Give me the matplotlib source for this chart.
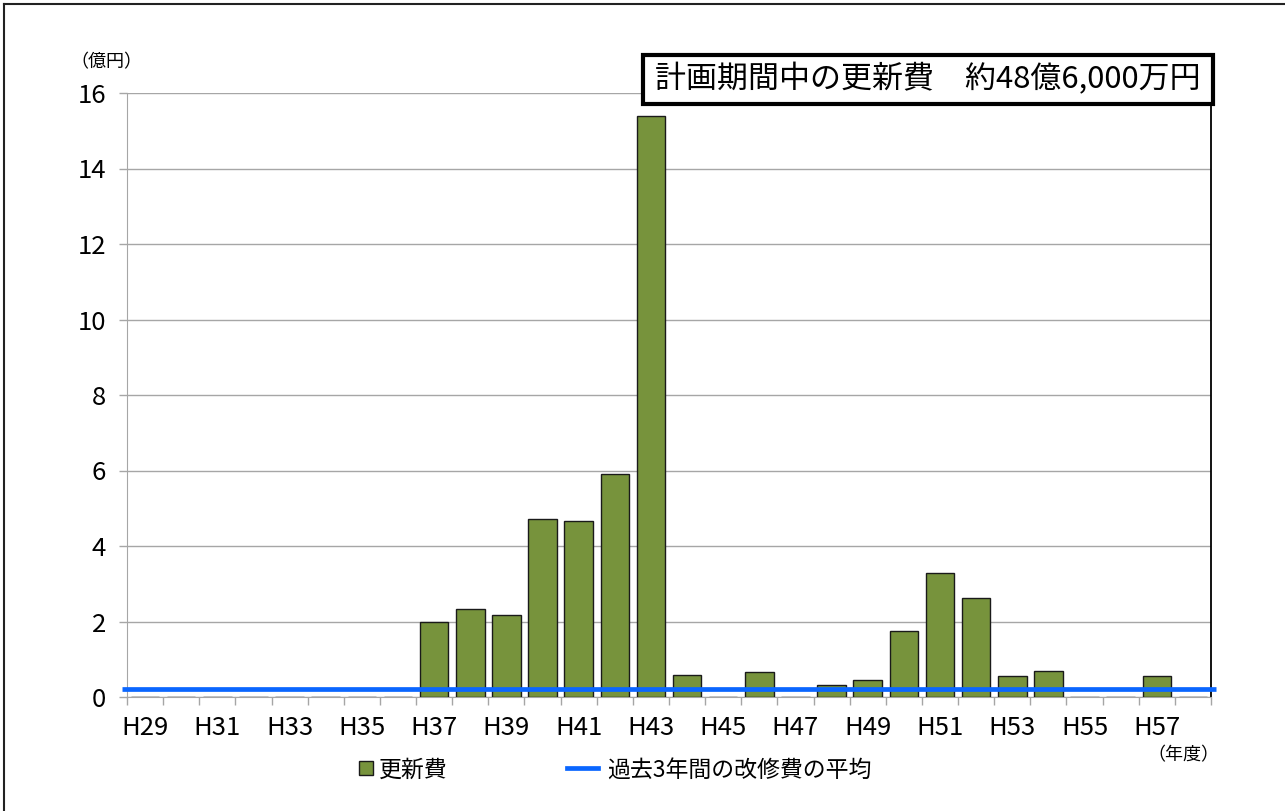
import matplotlib
matplotlib.use("Agg")
import matplotlib.pyplot as plt
from matplotlib.lines import Line2D
from matplotlib.patches import Rectangle

plt.rcParams['font.family'] = ['Noto Sans CJK JP', 'DejaVu Sans']

# Fiscal years H29 .. H58
years = [f"H{y}" for y in range(29, 59)]
# Renewal cost per year (100 million yen)
renewal_cost = [0, 0, 0, 0, 0, 0, 0, 0,
                2.00, 2.33, 2.17, 4.72, 4.66, 5.91, 15.39, 0.58,
                0, 0.66, 0, 0.31, 0.45, 1.75, 3.28, 2.61,
                0.55, 0.70, 0, 0, 0.55, 0]
# Average repair cost over the past 3 years (100 million yen)
past_avg = 0.21
yticks = [0, 2, 4, 6, 8, 10, 12, 14, 16]

title_text = "計画期間中の更新費　約48億6,000万円"
bar_label = "更新費"
line_label = "過去3年間の改修費の平均"

W, H = 1285, 811
fig = plt.figure(figsize=(W / 100, H / 100), dpi=100)
ax = fig.add_axes([127 / W, 1 - 697 / H, (1211 - 127) / W, (697 - 93) / H])

x = list(range(len(years)))
bar_color = "#77933C"
line_color = "#0A66FF"
grid_color = "#A6A6A6"

ax.bar(x, renewal_cost, width=0.79, color=bar_color, edgecolor="#1a1a1a",
       linewidth=1.0, zorder=3)
ax.hlines(past_avg, -0.64, len(years) - 0.36, colors=line_color,
          linewidth=3.4, zorder=4, clip_on=False)

ax.set_xlim(-0.5, len(years) - 0.5)
ax.set_ylim(0, 16)
ax.set_yticks(yticks)
ax.set_yticklabels([str(v) for v in yticks])
ax.yaxis.grid(True, color=grid_color, linewidth=1.0, zorder=0)
ax.set_axisbelow(True)

# Ticks on category boundaries, labels on every other category
ax.set_xticks([i - 0.5 for i in range(len(years) + 1)])
ax.set_xticklabels([])
ax.set_xticks(x[::2], minor=True)
ax.set_xticklabels(years[::2], minor=True)
ax.tick_params(axis="x", which="major", length=6, width=1, color=grid_color,
               direction="out")
ax.tick_params(axis="x", which="minor", length=0, pad=13, labelsize=18.5)
ax.tick_params(axis="y", length=6, width=1, color=grid_color, pad=9,
               labelsize=18.5)

ax.spines["top"].set_visible(False)
ax.spines["left"].set_color(grid_color)
ax.spines["bottom"].set_color(grid_color)
ax.spines["right"].set_color("black")
ax.spines["right"].set_linewidth(1.3)

# Unit labels
fig.text(106 / W, 1 - 62 / H, "（億円）", fontsize=13, ha="center", va="center")
fig.text(1183 / W, 1 - 755 / H, "（年度）", fontsize=13, ha="center", va="center")

# Boxed total
bx0, bx1, by0, by1 = 643, 1213, 55, 104
fig.patches.append(Rectangle((bx0 / W, 1 - by1 / H), (bx1 - bx0) / W,
                             (by1 - by0) / H, transform=fig.transFigure,
                             facecolor="white", edgecolor="black",
                             linewidth=3, zorder=5))
fig.text((bx0 + bx1) / 2 / W, 1 - (by0 + by1) / 2 / H, title_text,
         fontsize=22.3, ha="center", va="center", zorder=6)

# Legend
sq = Line2D([], [], marker="s", linestyle="none", markersize=9.5,
            markerfacecolor=bar_color, markeredgecolor="#1a1a1a",
            markeredgewidth=1.0)
ln = Line2D([], [], color=line_color, linewidth=3.4)
leg1 = fig.legend([sq], [bar_label], loc="center left",
                  bbox_to_anchor=(358 / W, 1 - 770 / H), frameon=False,
                  fontsize=16.5, handlelength=0.7, handletextpad=0.2,
                  borderpad=0, borderaxespad=0)
leg2 = fig.legend([ln], [line_label], loc="center left",
                  bbox_to_anchor=(567 / W, 1 - 770 / H), frameon=False,
                  fontsize=16.5, handlelength=1.35, handletextpad=0.4,
                  borderpad=0, borderaxespad=0)

# Outer frame
fig.add_artist(Line2D([4 / W, 1], [1 - 4 / H, 1 - 4 / H],
                      transform=fig.transFigure, color="#222222", linewidth=1.5))
fig.add_artist(Line2D([4 / W, 4 / W], [0, 1 - 4 / H],
                      transform=fig.transFigure, color="#222222", linewidth=1.5))

fig.savefig("out.png", dpi=100, facecolor="white")
